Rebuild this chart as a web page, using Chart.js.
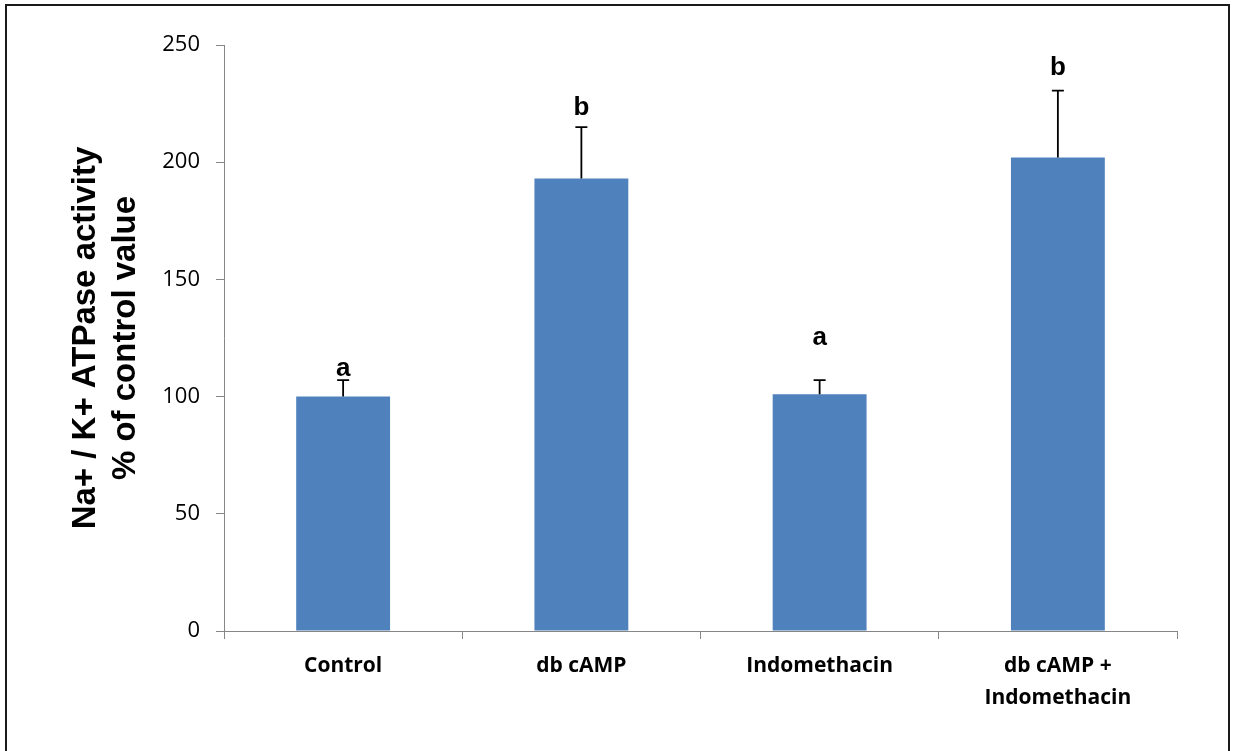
<!DOCTYPE html>
<html>
<head>
<meta charset="utf-8">
<script src="https://cdn.jsdelivr.net/npm/chart.js@4.4.1/dist/chart.umd.min.js"></script>
<style>
  html, body { margin: 0; padding: 0; background: #fff; overflow: hidden; }
  #wrap { position: relative; width: 1235px; height: 751px; }
  #frame {
    position: absolute; left: 5px; top: 4px; width: 1221px; height: 800px;
    border: 2px solid #1a1a1a; pointer-events: none;
  }
  canvas { position: absolute; left: 0; top: 0; }
</style>
</head>
<body>
<div id="wrap">
  <canvas id="atpaseChart" width="1235" height="751"></canvas>
  <div id="frame"></div>
</div>
<script>
// values
const groups = ["Control", "db cAMP", "Indomethacin", ["db cAMP +", "Indomethacin"]];
const activity = [100, 193, 101, 202];
const errorUp = [7, 22, 6, 28.5];
const letters = ["a", "b", "a", "b"];
const letterLevels = [109, 220, 122, 237];
const yTicks = [0, 50, 100, 150, 200, 250];

// error bars (upper only) and significance letters
const errorBarPlugin = {
  id: "errorBars",
  afterDatasetsDraw(chart) {
    const ctx = chart.ctx;
    const yScale = chart.scales.y;
    const meta = chart.getDatasetMeta(0);
    ctx.save();
    meta.data.forEach((bar, i) => {
      const x = bar.x;
      const yTop = yScale.getPixelForValue(activity[i] + errorUp[i]);
      const yBar = yScale.getPixelForValue(activity[i]);
      ctx.strokeStyle = "#000";
      ctx.lineWidth = 1.8;
      ctx.beginPath();
      ctx.moveTo(x, yBar);
      ctx.lineTo(x, yTop);
      ctx.moveTo(x - 6, yTop);
      ctx.lineTo(x + 6, yTop);
      ctx.stroke();

      ctx.fillStyle = "#000";
      ctx.font = "bold 26px 'Liberation Sans', Arial, sans-serif";
      ctx.textAlign = "center";
      ctx.textBaseline = "alphabetic";
      ctx.fillText(letters[i], x, yScale.getPixelForValue(letterLevels[i]));
    });
    ctx.restore();
  },
};

const ctx = document.getElementById("atpaseChart").getContext("2d");
const atpaseChart = new Chart(ctx, {
  type: "bar",
  data: {
    labels: groups,
    datasets: [
      {
        data: activity,
        backgroundColor: "#4F81BD",
        borderWidth: 0,
        categoryPercentage: 1,
        barPercentage: 0.394,
      },
    ],
  },
  options: {
    responsive: false,
    animation: false,
    events: [],
    layout: {
      padding: { left: 50, top: 45, right: 58, bottom: 0 },
    },
    plugins: {
      legend: { display: false },
      tooltip: { enabled: false },
    },
    scales: {
      x: {
        grid: {
          offset: true,
          drawOnChartArea: false,
          drawTicks: true,
          tickLength: 8,
          color: "#868686",
        },
        border: { display: true, color: "#868686", width: 1 },
        ticks: {
          color: "#000",
          padding: 11,
          font: { family: "'Open Sans', sans-serif", size: 21, weight: "bold", lineHeight: 1.52 },
          maxRotation: 0,
        },
        afterFit(scale) {
          scale.height = 120;
        },
      },
      y: {
        min: 0,
        max: 250,
        afterBuildTicks(scale) {
          scale.ticks = yTicks.map((v) => ({ value: v }));
        },
        grid: {
          drawOnChartArea: false,
          drawTicks: true,
          tickLength: 8,
          color: "#868686",
        },
        border: { display: true, color: "#868686", width: 1 },
        ticks: {
          color: "#000",
          padding: 16,
          font: { family: "'Open Sans', sans-serif", size: 22 },
        },
        title: {
          display: true,
          text: ["Na+ / K+ ATPase activity", "% of control value"],
          color: "#000",
          padding: { top: 16, bottom: 0 },
          font: { family: "'Liberation Sans', Arial, sans-serif", size: 33, weight: "bold", lineHeight: 1.21 },
        },
        afterFit(scale) {
          scale.width = 174;
        },
      },
    },
  },
  plugins: [errorBarPlugin],
});
</script>
</body>
</html>
